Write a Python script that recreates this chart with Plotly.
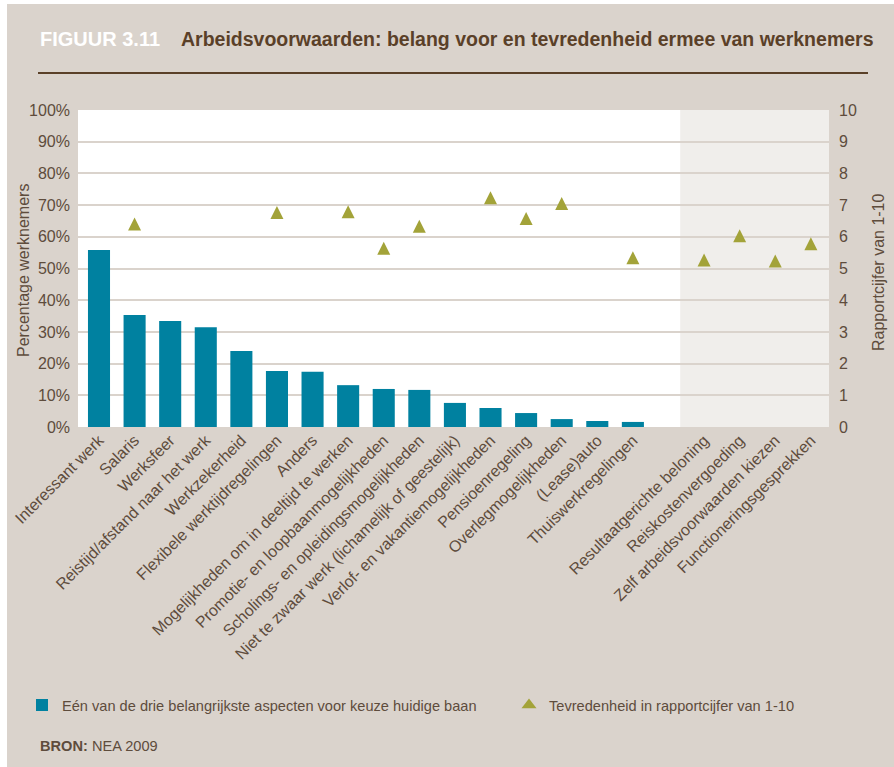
import plotly.graph_objects as go

# Gegevens
categorieen = [
    "Interessant werk", "Salaris", "Werksfeer", "Reistijd/afstand naar het werk",
    "Werkzekerheid", "Flexibele werktijdregelingen", "Anders",
    "Mogelijkheden om in deeltijd te werken", "Promotie- en loopbaanmogelijkheden",
    "Scholings- en opleidingsmogelijkheden",
    "Niet te zwaar werk (lichamelijk of geestelijk)",
    "Verlof- en vakantiemogelijkheden", "Pensioenregeling", "Overlegmogelijkheden",
    "(Lease)auto", "Thuiswerkregelingen",
    "Resultaatgerichte beloning", "Reiskostenvergoeding",
    "Zelf arbeidsvoorwaarden kiezen", "Functioneringsgesprekken",
]
belang_pct = [55.8, 35.3, 33.4, 31.5, 24.0, 17.7, 17.4, 13.2,
              12.0, 11.7, 7.6, 6.0, 4.4, 2.5, 1.9, 1.6]
tevredenheid = [None, 6.4, None, None, None, 6.77, None, 6.79, 5.64, 6.33,
                None, 7.23, 6.58, 7.05, None, 5.34, 5.27, 6.03, 5.24, 5.78]

naam_belang = "Eén van de drie belangrijkste aspecten voor keuze huidige baan"
naam_tevr = "Tevredenheid in rapportcijfer van 1-10"

BEIGE = "#dad3cc"
BRUIN = "#5e4c3c"
DONKERBRUIN = "#5a4028"
BLAUW = "#0081a0"
OLIJF = "#a3a339"

W, H = 894, 767
L, R, T, B = 78, 65, 110, 340


def px(x):
    return (x - L) / (W - L - R)


def py(y):
    return (H - B - y) / (H - T - B)


# na de items met een balk komt een lege kolom
n_bars = len(belang_pct)
posities = [i if i < n_bars else i + 1 for i in range(len(categorieen))]

fig = go.Figure()
fig.add_trace(go.Bar(
    x=posities[:n_bars], y=belang_pct, name=naam_belang, legendwidth=442,
    marker=dict(color=BLAUW, line=dict(width=0)), width=0.62,
))
# driehoek met gelijke breedte en hoogte, gecentreerd op de waarde
fig.add_trace(go.Scatter(
    x=posities, y=tevredenheid, name=naam_tevr, yaxis="y2", mode="markers",
    showlegend=False,
    marker=dict(symbol="arrow-down", angle=180, standoff=6.5, size=13,
                color=OLIJF, line=dict(width=0)),
))
# alleen voor de legenda
fig.add_trace(go.Scatter(
    x=[None], y=[None], name=naam_tevr, yaxis="y2", mode="markers",
    marker=dict(symbol="triangle-up", size=13, color=OLIJF, line=dict(width=0)),
))

fig.update_layout(
    width=W, height=H,
    margin=dict(l=L, r=R, t=T, b=B),
    paper_bgcolor=BEIGE, plot_bgcolor="white",
    showlegend=True, hovermode=False,
    font=dict(family="Liberation Sans", color=BRUIN, size=16),
    xaxis=dict(
        range=[-0.59, 20.51], tickmode="array", tickvals=posities,
        ticktext=categorieen, tickangle=-45, showgrid=False, zeroline=False,
        showline=False, ticks="", tickfont=dict(size=16, color=BRUIN),
    ),
    yaxis=dict(
        range=[0, 100], dtick=10, ticksuffix="%", showgrid=True,
        gridcolor=BEIGE, gridwidth=2, zeroline=False, showline=False,
        ticks="", ticklabelstandoff=7, tickfont=dict(size=16, color=BRUIN),
    ),
    yaxis2=dict(
        overlaying="y", side="right", range=[0, 10], dtick=1, showgrid=False,
        zeroline=False, showline=False, ticks="", ticklabelstandoff=9,
        tickfont=dict(size=16, color=BRUIN),
    ),
    legend=dict(
        orientation="h", x=px(22), y=py(705), xanchor="left", yanchor="middle",
        bgcolor="rgba(0,0,0,0)",
        font=dict(family="Liberation Sans", size=14.6, color=BRUIN),
        traceorder="normal",
    ),
)

# grijs vlak achter de laatste vier items, titel-lijn en witte rand
fig.add_shape(type="rect", xref="x", yref="y domain", x0=16.33, x1=20.51,
              y0=0, y1=1, fillcolor="#f0eeeb", line=dict(width=0), layer="below")
fig.add_shape(type="line", xref="paper", yref="paper", x0=px(38), x1=px(868),
              y0=py(73), y1=py(73), line=dict(color=DONKERBRUIN, width=2))
fig.add_shape(type="rect", xref="paper", yref="paper", x0=px(-2), x1=px(7),
              y0=py(H + 2), y1=py(-2), fillcolor="white", line=dict(width=0),
              layer="below")
fig.add_shape(type="rect", xref="paper", yref="paper", x0=px(-2), x1=px(W + 2),
              y0=py(4), y1=py(-2), fillcolor="white", line=dict(width=0),
              layer="below")

fig.add_annotation(text="<b>FIGUUR 3.11</b>", xref="paper", yref="paper",
                   x=px(38), y=py(39), xanchor="left", yanchor="middle",
                   showarrow=False,
                   font=dict(family="Liberation Sans", size=20, color="white"))
fig.add_annotation(text="<b>Arbeidsvoorwaarden: belang voor en tevredenheid ermee van werknemers</b>",
                   xref="paper", yref="paper", x=px(179), y=py(39),
                   xanchor="left", yanchor="middle", showarrow=False,
                   font=dict(family="Liberation Sans", size=19.5, color=DONKERBRUIN))
fig.add_annotation(text="Percentage werknemers", xref="paper", yref="paper",
                   x=px(23), y=py(271), textangle=-90, showarrow=False,
                   xanchor="center", yanchor="middle",
                   font=dict(size=16, color=BRUIN))
fig.add_annotation(text="Rapportcijfer van 1-10", xref="paper", yref="paper",
                   x=px(878), y=py(272), textangle=-90, showarrow=False,
                   xanchor="center", yanchor="middle",
                   font=dict(size=16, color=BRUIN))
fig.add_annotation(text="<b>BRON:</b> NEA 2009", xref="paper", yref="paper",
                   x=px(38), y=py(746), xanchor="left", yanchor="middle",
                   showarrow=False,
                   font=dict(family="Liberation Sans", size=14.6, color=BRUIN))

# geen standaard-marge van de pagina, zodat de figuur op (0,0) begint
fig.write_html("out.html", config={"displayModeBar": False},
               post_script="document.body.style.margin='0';")
